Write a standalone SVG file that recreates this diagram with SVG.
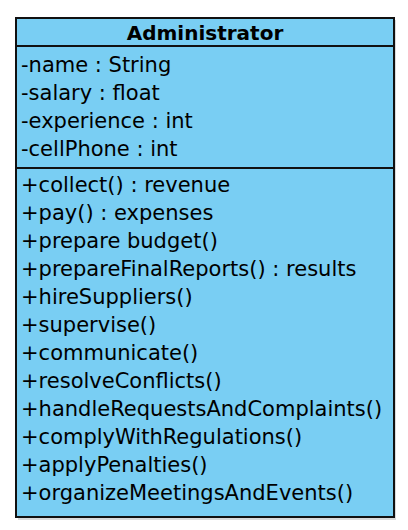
<svg xmlns="http://www.w3.org/2000/svg" width="408" height="530" viewBox="0 0 408 530">
<style>
.box{fill:#79CEF3;stroke:#111;stroke-width:2}
.div{stroke:#111;stroke-width:2}
.t{font-family:"DejaVu Sans",sans-serif;font-size:21px;fill:#000}
.h{font-family:"DejaVu Sans",sans-serif;font-size:20px;font-weight:bold;fill:#000}
</style>
<rect width="408" height="530" fill="#fff"/>
<g id="Administrator">
<rect x="18" y="20" width="378" height="500" fill="#999" opacity="0.35"/>
<rect class="box" x="16" y="18" width="378" height="499"/>
<line class="div" x1="16" y1="46" x2="394" y2="46"/>
<line class="div" x1="16" y1="168" x2="394" y2="168"/>
<text class="h" x="205" y="39.5" text-anchor="middle">Administrator</text>
<text class="t" x="21" y="72">-name : String</text>
<text class="t" x="21" y="100">-salary : float</text>
<text class="t" x="21" y="128">-experience : int</text>
<text class="t" x="21" y="156">-cellPhone : int</text>
<text class="t" x="21" y="192">+collect() : revenue</text>
<text class="t" x="21" y="220">+pay() : expenses</text>
<text class="t" x="21" y="248">+prepare budget()</text>
<text class="t" x="21" y="276">+prepareFinalReports() : results</text>
<text class="t" x="21" y="304">+hireSuppliers()</text>
<text class="t" x="21" y="332">+supervise()</text>
<text class="t" x="21" y="360">+communicate()</text>
<text class="t" x="21" y="388">+resolveConflicts()</text>
<text class="t" x="21" y="416">+handleRequestsAndComplaints()</text>
<text class="t" x="21" y="444">+complyWithRegulations()</text>
<text class="t" x="21" y="472">+applyPenalties()</text>
<text class="t" x="21" y="500">+organizeMeetingsAndEvents()</text>
</g>
</svg>
